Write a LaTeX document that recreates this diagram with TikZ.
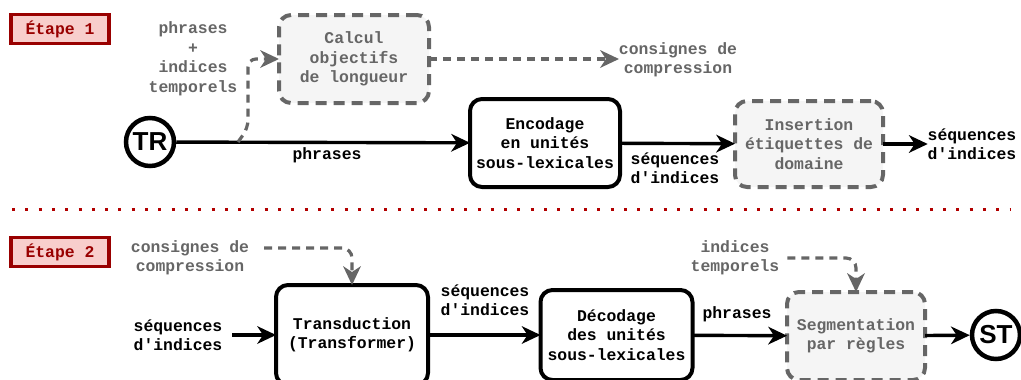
\documentclass[tikz,border=0pt]{standalone}
\usepackage{fontspec}
\setmonofont{Liberation Mono}
\newfontfamily\circfont{Liberation Sans}
\usetikzlibrary{arrows.meta,calc}
\definecolor{grayt}{HTML}{666666}
\definecolor{boxfill}{HTML}{F5F5F5}
\definecolor{darkred}{HTML}{990000}
\definecolor{pinkfill}{HTML}{F8CECC}
\definecolor{dotred}{HTML}{B20000}
\begin{document}
\begin{tikzpicture}[x=1pt,y=-1pt,
  txt/.style={font=\fontsize{16.4}{19.5}\selectfont\ttfamily\bfseries, align=center, inner sep=0pt, outer sep=0pt},
  graytxt/.style={txt, text=grayt},
  solidbox/.style={txt, draw=black, line width=4pt, rounded corners=12pt, fill=white},
  dashbox/.style={graytxt, draw=grayt, fill=boxfill, line width=4pt, rounded corners=12pt, dash pattern=on 11pt off 7pt},
  stepbox/.style={font=\fontsize{16.4}{19.5}\selectfont\ttfamily\bfseries, text=darkred, fill=pinkfill, draw=darkred, line width=3.2pt, minimum width=98pt, minimum height=29pt, inner sep=0pt},
  endcirc/.style={circle, draw=black, line width=4.5pt, minimum size=48pt, inner sep=0pt, font=\fontsize{26}{26}\selectfont\circfont\bfseries},
  tipbig/.style={-{Stealth[length=19pt,width=18pt,inset=6pt,line width=0pt]}},
  arr/.style={draw=black, line width=3.4pt, tipbig},
  darr/.style={draw=grayt, line width=3.2pt, dash pattern=on 8pt off 6pt, tipbig},
]
\useasboundingbox (0,0) rectangle (1021,380);

% ---------- Etape 1 ----------
\node[stepbox] (e1) at (60,29) {Étape 1};
\node[endcirc] (tr) at (150,142) {TR};
\node[graytxt] (pit) at (193,59) {phrases\\+\\indices\\temporels};
\node[dashbox, minimum width=150pt, minimum height=88pt] (calc) at (354,59) {Calcul\\objectifs\\de longueur};
\node[graytxt] (cons1) at (678,60) {consignes de\\compression};
\node[solidbox, minimum width=150pt, minimum height=88pt] (enc) at (545,143) {Encodage\\en unités\\sous-lexicales};
\node[txt] (lphr1) at (327,155) {phrases};
\node[dashbox, minimum width=148pt, minimum height=86pt] (ins) at (809,144) {Insertion\\étiquettes de\\domaine};
\node[txt] (lseq1) at (675,168) {séquences\\d'indices};
\node[txt] (seqout) at (972,144) {séquences\\d'indices};

\draw[arr] (tr) -- (enc);
\coordinate (branch) at (238,142);
\draw[darr, rounded corners=8pt] (branch) -- (248,128) -- (248,59) -- (calc.west);
\draw[darr] (calc.east) -- (cons1.west |- calc.east);
\draw[arr] (enc) -- (ins);
\draw[arr] (ins.east) -- (seqout.west |- ins.east);

% ---------- separator ----------
\coordinate (sepL) at (12,209);
\coordinate (sepR) at (1010,209);
\draw[dotred, line width=3pt, dash pattern=on 3pt off 10.3pt] (sepL) -- (sepR);

% ---------- Etape 2 ----------
\node[stepbox] (e2) at (60,252) {Étape 2};
\node[graytxt] (cons2) at (190,258) {consignes de\\compression};
\node[txt] (seqin) at (178,335) {séquences\\d'indices};
\node[solidbox, minimum width=152pt, minimum height=100pt] (trans) at (352,335) {Transduction\\(Transformer)};
\node[txt] (lseq2) at (485,300) {séquences\\d'indices};
\node[solidbox, minimum width=152pt, minimum height=90pt] (dec) at (616.5,335) {Décodage\\des unités\\sous-lexicales};
\node[txt] (lphr2) at (737,314) {phrases};
\node[graytxt] (itp) at (735,258) {indices\\temporels};
\node[dashbox, minimum width=138pt, minimum height=88pt] (seg) at (856,336) {Segmentation\\par règles};
\node[endcirc] (st) at (996,335) {ST};

\coordinate (consstart) at (264,248);
\draw[darr, rounded corners=10pt] (consstart) -| (trans.north);
\draw[arr] (seqin.east |- trans.west) ++(10,0) -- (trans.west);
\draw[arr] (trans) -- (dec);
\draw[arr] (dec) -- (seg);
\draw[darr, rounded corners=10pt] (itp.east) ++(8,0) -| (seg.north);
\draw[arr] (seg) -- (st);
\end{tikzpicture}
\end{document}
